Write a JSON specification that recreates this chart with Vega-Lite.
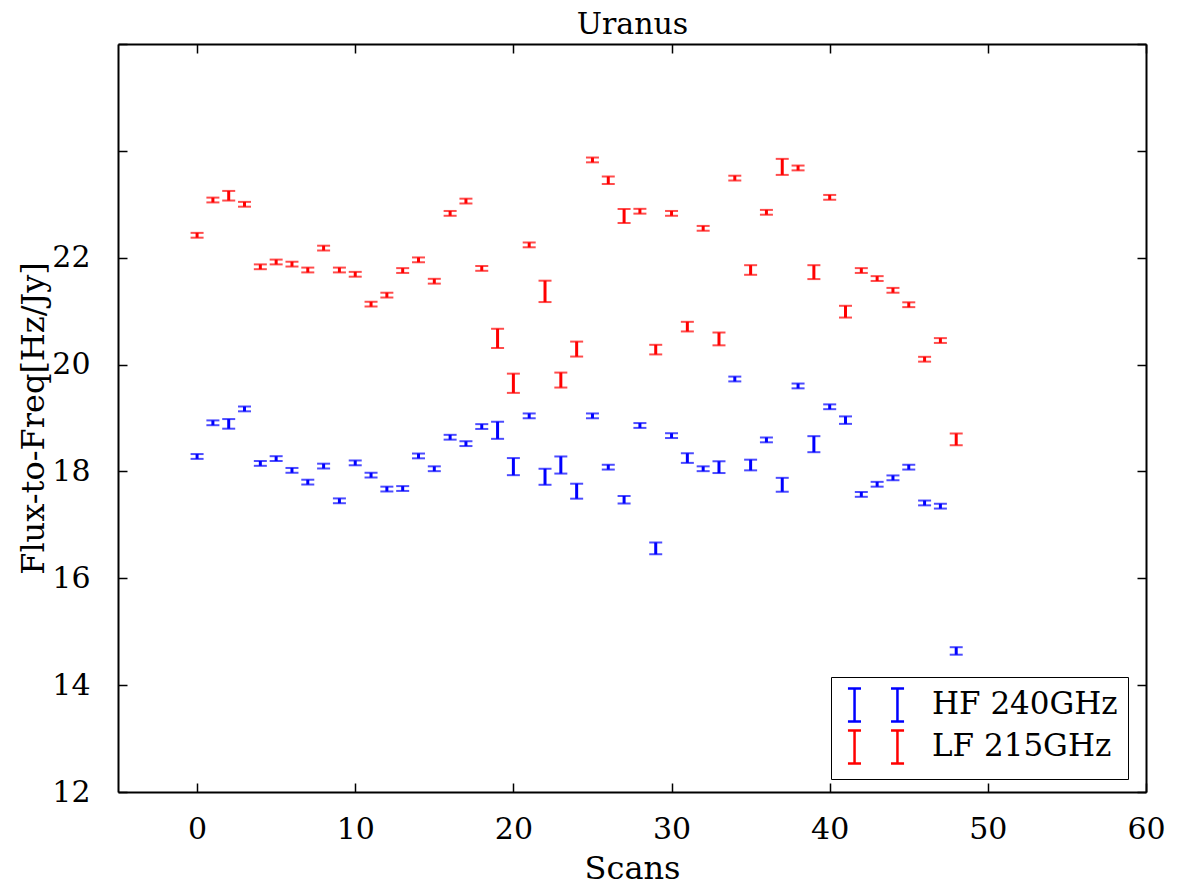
{
  "$schema": "https://vega.github.io/schema/vega-lite/v6.json",
  "width": 1028,
  "height": 748,
  "autosize": {"type": "none"},
  "padding": {"left": 118, "top": 44, "right": 36, "bottom": 94},
  "background": "white",
  "config": {
    "font": "DejaVu Serif",
    "view": {"stroke": null},
    "axis": {
      "grid": false,
      "labelFont": "DejaVu Serif",
      "labelFontSize": 30,
      "labelColor": "black",
      "labelFlush": false,
      "labelOverlap": false,
      "titleFont": "DejaVu Serif",
      "titleFontSize": 32,
      "titleFontWeight": "normal",
      "titleColor": "black",
      "domainColor": "black",
      "domainWidth": 2,
      "tickColor": "black",
      "tickWidth": 1.5,
      "tickSize": -9
    }
  },
  "data": {
    "values": [
      {"scan": 0, "flux": 22.42, "err": 0.045, "band": "LF 215GHz"},
      {"scan": 1, "flux": 23.08, "err": 0.045, "band": "LF 215GHz"},
      {"scan": 2, "flux": 23.16, "err": 0.09, "band": "LF 215GHz"},
      {"scan": 3, "flux": 23.0, "err": 0.045, "band": "LF 215GHz"},
      {"scan": 4, "flux": 21.83, "err": 0.045, "band": "LF 215GHz"},
      {"scan": 5, "flux": 21.92, "err": 0.045, "band": "LF 215GHz"},
      {"scan": 6, "flux": 21.88, "err": 0.045, "band": "LF 215GHz"},
      {"scan": 7, "flux": 21.77, "err": 0.045, "band": "LF 215GHz"},
      {"scan": 8, "flux": 22.18, "err": 0.045, "band": "LF 215GHz"},
      {"scan": 9, "flux": 21.77, "err": 0.045, "band": "LF 215GHz"},
      {"scan": 10, "flux": 21.69, "err": 0.045, "band": "LF 215GHz"},
      {"scan": 11, "flux": 21.13, "err": 0.045, "band": "LF 215GHz"},
      {"scan": 12, "flux": 21.3, "err": 0.045, "band": "LF 215GHz"},
      {"scan": 13, "flux": 21.76, "err": 0.045, "band": "LF 215GHz"},
      {"scan": 14, "flux": 21.96, "err": 0.045, "band": "LF 215GHz"},
      {"scan": 15, "flux": 21.56, "err": 0.045, "band": "LF 215GHz"},
      {"scan": 16, "flux": 22.83, "err": 0.045, "band": "LF 215GHz"},
      {"scan": 17, "flux": 23.06, "err": 0.045, "band": "LF 215GHz"},
      {"scan": 18, "flux": 21.8, "err": 0.045, "band": "LF 215GHz"},
      {"scan": 19, "flux": 20.49, "err": 0.18, "band": "LF 215GHz"},
      {"scan": 20, "flux": 19.65, "err": 0.18, "band": "LF 215GHz"},
      {"scan": 21, "flux": 22.24, "err": 0.045, "band": "LF 215GHz"},
      {"scan": 22, "flux": 21.37, "err": 0.2, "band": "LF 215GHz"},
      {"scan": 23, "flux": 19.71, "err": 0.14, "band": "LF 215GHz"},
      {"scan": 24, "flux": 20.29, "err": 0.14, "band": "LF 215GHz"},
      {"scan": 25, "flux": 23.83, "err": 0.045, "band": "LF 215GHz"},
      {"scan": 26, "flux": 23.45, "err": 0.07, "band": "LF 215GHz"},
      {"scan": 27, "flux": 22.78, "err": 0.13, "band": "LF 215GHz"},
      {"scan": 28, "flux": 22.87, "err": 0.045, "band": "LF 215GHz"},
      {"scan": 29, "flux": 20.28, "err": 0.09, "band": "LF 215GHz"},
      {"scan": 30, "flux": 22.83, "err": 0.045, "band": "LF 215GHz"},
      {"scan": 31, "flux": 20.71, "err": 0.09, "band": "LF 215GHz"},
      {"scan": 32, "flux": 22.55, "err": 0.045, "band": "LF 215GHz"},
      {"scan": 33, "flux": 20.48, "err": 0.12, "band": "LF 215GHz"},
      {"scan": 34, "flux": 23.49, "err": 0.045, "band": "LF 215GHz"},
      {"scan": 35, "flux": 21.77, "err": 0.09, "band": "LF 215GHz"},
      {"scan": 36, "flux": 22.85, "err": 0.045, "band": "LF 215GHz"},
      {"scan": 37, "flux": 23.7, "err": 0.15, "band": "LF 215GHz"},
      {"scan": 38, "flux": 23.68, "err": 0.045, "band": "LF 215GHz"},
      {"scan": 39, "flux": 21.73, "err": 0.13, "band": "LF 215GHz"},
      {"scan": 40, "flux": 23.13, "err": 0.045, "band": "LF 215GHz"},
      {"scan": 41, "flux": 20.99, "err": 0.11, "band": "LF 215GHz"},
      {"scan": 42, "flux": 21.76, "err": 0.045, "band": "LF 215GHz"},
      {"scan": 43, "flux": 21.61, "err": 0.045, "band": "LF 215GHz"},
      {"scan": 44, "flux": 21.39, "err": 0.045, "band": "LF 215GHz"},
      {"scan": 45, "flux": 21.12, "err": 0.045, "band": "LF 215GHz"},
      {"scan": 46, "flux": 20.1, "err": 0.045, "band": "LF 215GHz"},
      {"scan": 47, "flux": 20.45, "err": 0.045, "band": "LF 215GHz"},
      {"scan": 48, "flux": 18.6, "err": 0.11, "band": "LF 215GHz"},
      {"scan": 0, "flux": 18.28, "err": 0.045, "band": "HF 240GHz"},
      {"scan": 1, "flux": 18.91, "err": 0.045, "band": "HF 240GHz"},
      {"scan": 2, "flux": 18.89, "err": 0.09, "band": "HF 240GHz"},
      {"scan": 3, "flux": 19.17, "err": 0.045, "band": "HF 240GHz"},
      {"scan": 4, "flux": 18.15, "err": 0.045, "band": "HF 240GHz"},
      {"scan": 5, "flux": 18.24, "err": 0.045, "band": "HF 240GHz"},
      {"scan": 6, "flux": 18.02, "err": 0.045, "band": "HF 240GHz"},
      {"scan": 7, "flux": 17.8, "err": 0.045, "band": "HF 240GHz"},
      {"scan": 8, "flux": 18.1, "err": 0.045, "band": "HF 240GHz"},
      {"scan": 9, "flux": 17.45, "err": 0.045, "band": "HF 240GHz"},
      {"scan": 10, "flux": 18.16, "err": 0.045, "band": "HF 240GHz"},
      {"scan": 11, "flux": 17.93, "err": 0.045, "band": "HF 240GHz"},
      {"scan": 12, "flux": 17.67, "err": 0.045, "band": "HF 240GHz"},
      {"scan": 13, "flux": 17.68, "err": 0.045, "band": "HF 240GHz"},
      {"scan": 14, "flux": 18.29, "err": 0.045, "band": "HF 240GHz"},
      {"scan": 15, "flux": 18.05, "err": 0.045, "band": "HF 240GHz"},
      {"scan": 16, "flux": 18.64, "err": 0.045, "band": "HF 240GHz"},
      {"scan": 17, "flux": 18.52, "err": 0.045, "band": "HF 240GHz"},
      {"scan": 18, "flux": 18.84, "err": 0.045, "band": "HF 240GHz"},
      {"scan": 19, "flux": 18.77, "err": 0.16, "band": "HF 240GHz"},
      {"scan": 20, "flux": 18.09, "err": 0.16, "band": "HF 240GHz"},
      {"scan": 21, "flux": 19.04, "err": 0.045, "band": "HF 240GHz"},
      {"scan": 22, "flux": 17.9, "err": 0.15, "band": "HF 240GHz"},
      {"scan": 23, "flux": 18.12, "err": 0.16, "band": "HF 240GHz"},
      {"scan": 24, "flux": 17.63, "err": 0.14, "band": "HF 240GHz"},
      {"scan": 25, "flux": 19.04, "err": 0.045, "band": "HF 240GHz"},
      {"scan": 26, "flux": 18.08, "err": 0.045, "band": "HF 240GHz"},
      {"scan": 27, "flux": 17.47, "err": 0.07, "band": "HF 240GHz"},
      {"scan": 28, "flux": 18.86, "err": 0.045, "band": "HF 240GHz"},
      {"scan": 29, "flux": 16.56, "err": 0.11, "band": "HF 240GHz"},
      {"scan": 30, "flux": 18.67, "err": 0.045, "band": "HF 240GHz"},
      {"scan": 31, "flux": 18.25, "err": 0.09, "band": "HF 240GHz"},
      {"scan": 32, "flux": 18.05, "err": 0.045, "band": "HF 240GHz"},
      {"scan": 33, "flux": 18.08, "err": 0.11, "band": "HF 240GHz"},
      {"scan": 34, "flux": 19.73, "err": 0.045, "band": "HF 240GHz"},
      {"scan": 35, "flux": 18.12, "err": 0.1, "band": "HF 240GHz"},
      {"scan": 36, "flux": 18.59, "err": 0.045, "band": "HF 240GHz"},
      {"scan": 37, "flux": 17.75, "err": 0.13, "band": "HF 240GHz"},
      {"scan": 38, "flux": 19.6, "err": 0.045, "band": "HF 240GHz"},
      {"scan": 39, "flux": 18.51, "err": 0.15, "band": "HF 240GHz"},
      {"scan": 40, "flux": 19.21, "err": 0.045, "band": "HF 240GHz"},
      {"scan": 41, "flux": 18.96, "err": 0.07, "band": "HF 240GHz"},
      {"scan": 42, "flux": 17.57, "err": 0.045, "band": "HF 240GHz"},
      {"scan": 43, "flux": 17.76, "err": 0.045, "band": "HF 240GHz"},
      {"scan": 44, "flux": 17.88, "err": 0.045, "band": "HF 240GHz"},
      {"scan": 45, "flux": 18.08, "err": 0.045, "band": "HF 240GHz"},
      {"scan": 46, "flux": 17.41, "err": 0.045, "band": "HF 240GHz"},
      {"scan": 47, "flux": 17.35, "err": 0.045, "band": "HF 240GHz"},
      {"scan": 48, "flux": 14.64, "err": 0.07, "band": "HF 240GHz"}
    ]
  },
  "layer": [
    {
      "mark": {"type": "errorbar", "thickness": 3, "ticks": {"size": 13, "thickness": 2}},
      "encoding": {
        "x": {
          "field": "scan",
          "type": "quantitative",
          "scale": {"domain": [-5, 60], "nice": false, "zero": false},
          "axis": {
            "orient": "bottom",
            "values": [0, 10, 20, 30, 40, 50, 60],
            "title": "Scans",
            "titleBaseline": "alphabetic",
            "titleX": 514,
            "titleY": 86,
            "labelBaseline": "alphabetic",
            "labelPadding": 55
          }
        },
        "y": {
          "field": "flux",
          "type": "quantitative",
          "scale": {"domain": [12, 26], "nice": false, "zero": false},
          "axis": {
            "orient": "left",
            "values": [12, 14, 16, 18, 20, 22, 24, 26],
            "labelExpr": "datum.value > 22 ? '' : datum.label",
            "title": "Flux-to-Freq[Hz/Jy]",
            "titleBaseline": "alphabetic",
            "titleX": -75,
            "titleY": 374,
            "labelPadding": 37
          }
        },
        "yError": {"field": "err"},
        "color": {
          "field": "band",
          "type": "nominal",
          "scale": {"domain": ["HF 240GHz", "LF 215GHz"], "range": ["#0000ff", "#ff0000"]},
          "legend": {
            "orient": "none",
            "legendX": 713,
            "legendY": 633,
            "title": null,
            "symbolType": "M-1.7,-1H-0.91M-1.3,-1V1M-1.7,1H-0.91M0.91,-1H1.7M1.3,-1V1M0.91,1H1.7",
            "symbolSize": 1089,
            "symbolStrokeWidth": 2.5,
            "symbolOpacity": 1,
            "symbolFillColor": "transparent",
            "symbolOffset": 17,
            "labelFont": "DejaVu Serif",
            "labelFontSize": 31,
            "labelColor": "black",
            "labelOffset": 38,
            "labelLimit": 400,
            "padding": 10,
            "rowPadding": -2,
            "strokeColor": "black",
            "fillColor": "white",
            "cornerRadius": 0
          }
        }
      }
    },
    {
      "mark": {"type": "point", "opacity": 0},
      "encoding": {
        "x": {
          "field": "scan",
          "type": "quantitative",
          "scale": {"domain": [-5, 60], "nice": false, "zero": false},
          "axis": {
            "orient": "top",
            "values": [0, 10, 20, 30, 40, 50, 60],
            "labels": false,
            "title": "Uranus",
            "titleFontSize": 30,
            "titleBaseline": "alphabetic",
            "titleX": 514,
            "titleY": -11
          }
        },
        "y": {
          "field": "flux",
          "type": "quantitative",
          "scale": {"domain": [12, 26], "nice": false, "zero": false},
          "axis": {"orient": "right", "values": [12, 14, 16, 18, 20, 22, 24, 26], "labels": false, "title": null}
        }
      }
    }
  ],
  "resolve": {"axis": {"x": "independent", "y": "independent"}}
}
